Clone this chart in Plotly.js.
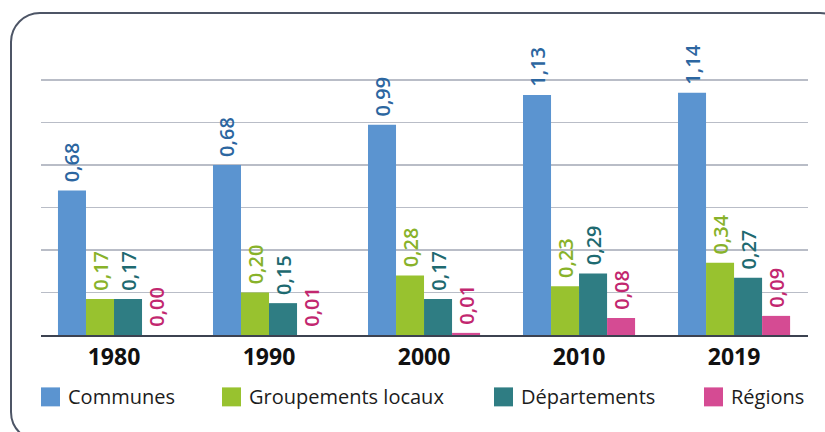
<!DOCTYPE html>
<html>
<head>
<meta charset="utf-8">
<script src="https://cdn.plot.ly/plotly-3.0.1.min.js"></script>
<style>
  html, body { margin:0; padding:0; width:825px; height:432px; overflow:hidden; background:#fff; }
  #frame { position:absolute; left:10px; top:12px; width:840px; height:430px; border:2.5px solid #4d5566; border-radius:30px; box-sizing:border-box; }
  #chart { position:absolute; left:0; top:0; width:825px; height:432px; }
</style>
</head>
<body>
<div id="frame"></div>
<div id="chart"></div>
<script>
// ---- data ----
const years = ['1980', '1990', '2000', '2010', '2019'];
const seriesNames = ['Communes', 'Groupements locaux', 'Départements', 'Régions'];
const communes = [0.68, 0.80, 0.99, 1.13, 1.14];
const communesLabels = ['0,68', '0,68', '0,99', '1,13', '1,14'];
const groupements = [0.17, 0.20, 0.28, 0.23, 0.34];
const groupementsLabels = ['0,17', '0,20', '0,28', '0,23', '0,34'];
const departements = [0.17, 0.15, 0.17, 0.29, 0.27];
const departementsLabels = ['0,17', '0,15', '0,17', '0,29', '0,27'];
const regions = [0.00, 0.00, 0.01, 0.08, 0.09];
const regionsLabels = ['0,00', '0,01', '0,01', '0,08', '0,09'];

// ---- styles ----
const barColors = ['#5b94d0', '#98c22f', '#2f7d83', '#d54b93'];
const labelColors = ['#2c66a0', '#88b22a', '#1e6a70', '#c2276f'];
const values = [communes, groupements, departements, regions];
const labels = [communesLabels, groupementsLabels, departementsLabels, regionsLabels];
const FONT = '"Open Sans", "Noto Sans", sans-serif';
const PAD = '\u00a0';

const traces = seriesNames.map((name, i) => ({
  type: 'bar',
  name: name,
  x: years,
  y: values[i],
  text: labels[i].map(t => PAD + t),
  textposition: 'outside',
  textangle: -90,
  constraintext: 'none',
  cliponaxis: false,
  textfont: { family: FONT, size: 20, color: labelColors[i], weight: 600 },
  marker: { color: barColors[i], line: { width: 0 } },
  showlegend: false,
  hoverinfo: 'skip'
}));

// custom legend (layout positions in px)
const W = 825, H = 432;
const mL = 41, mR = 17, mT = 78, mB = 96.5;
const pw = W - mL - mR, ph = H - mT - mB;
const px2x = p => (p - mL) / pw;
const px2y = p => (H - mB - p) / ph;
const legendX = [41, 222, 494, 704];
const legendY = 397.5, sq = 19;

const shapes = [], annotations = [];
seriesNames.forEach((name, i) => {
  shapes.push({
    type: 'rect', xref: 'paper', yref: 'paper',
    x0: px2x(legendX[i]), x1: px2x(legendX[i] + sq),
    y0: px2y(legendY + sq / 2), y1: px2y(legendY - sq / 2),
    fillcolor: barColors[i], line: { width: 0 }
  });
  annotations.push({
    xref: 'paper', yref: 'paper', x: px2x(legendX[i] + sq + 6), y: px2y(legendY),
    xanchor: 'left', yanchor: 'middle', showarrow: false, text: name,
    font: { family: FONT, size: 20, color: '#1c1c1c' }
  });
});

const layout = {
  width: W, height: H,
  margin: { l: mL, r: mR, t: mT, b: mB, pad: 0 },
  paper_bgcolor: 'rgba(0,0,0,0)',
  plot_bgcolor: 'rgba(0,0,0,0)',
  barmode: 'group',
  bargap: 0.277,
  bargroupgap: 0,
  showlegend: false,
  xaxis: {
    type: 'category',
    range: [-0.471, 4.477],
    showgrid: false,
    showline: true, linecolor: '#3c4250', linewidth: 2,
    ticks: '',
    tickfont: { family: FONT, size: 23, color: '#111', weight: 700 },
    fixedrange: true
  },
  yaxis: {
    range: [0, 1.21],
    tick0: 0,
    dtick: 0.2,
    showticklabels: false,
    showgrid: true, gridcolor: '#b9bdc7', gridwidth: 1.3,
    zeroline: false,
    ticks: '',
    fixedrange: true
  },
  shapes: shapes,
  annotations: annotations,
  font: { family: FONT }
};

Plotly.newPlot('chart', traces, layout, { displayModeBar: false, staticPlot: true });
</script>
</body>
</html>
